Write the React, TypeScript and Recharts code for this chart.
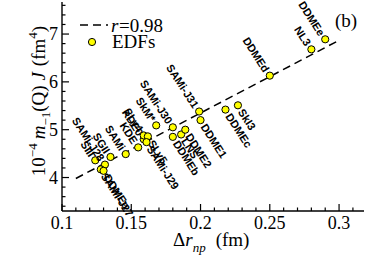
import React from 'react';
import { ComposedChart, Scatter, Line, XAxis, YAxis } from 'recharts';

// EDF results: neutron skin vs 10^-4 m_-1 J
const edfNames = ['SIII', 'SGII', 'SAMi-J28', 'SAMi-J27', 'DDMEa', 'SAMi', 'KDE', 'KDE0', 'SLy4', 'SLy5', 'SAMi-J29', 'SkM*', 'SAMi-J30', 'DDMEb', 'LNS', 'DDME2', 'SAMi-J31', 'DDME1', 'DDMEc', 'SkI3', 'DDMEd', 'NL3', 'DDMEe'];
const deltaRnp = [0.124, 0.135, 0.131, 0.128, 0.13, 0.146, 0.155, 0.159, 0.159, 0.162, 0.161, 0.168, 0.18, 0.18, 0.186, 0.189, 0.199, 0.2, 0.218, 0.227, 0.25, 0.28, 0.29];
const m1J = [4.36, 4.43, 4.27, 4.17, 4.14, 4.49, 4.63, 4.8, 4.88, 4.86, 4.74, 5.09, 5.05, 4.85, 4.9, 5.0, 5.38, 5.2, 5.42, 5.51, 6.13, 6.68, 6.89];

// linear fit (r = 0.98)
const fitX = [0.11, 0.3];
const fitY = [3.98, 6.87];

const xTicks = [0.1, 0.11, 0.12, 0.13, 0.14, 0.15, 0.16, 0.17, 0.18, 0.19, 0.2, 0.21, 0.22, 0.23, 0.24, 0.25, 0.26, 0.27, 0.28, 0.29, 0.3, 0.31];
const yTicks = [3.4, 3.6, 3.8, 4, 4.2, 4.4, 4.6, 4.8, 5, 5.2, 5.4, 5.6, 5.8, 6, 6.2, 6.4, 6.6, 6.8, 7, 7.2, 7.4, 7.6];

// labels drawn below-right of their point (others go above-left)
const labelBelow = ['SkI3', 'DDMEc', 'DDME1', 'DDME2', 'LNS', 'DDMEb', 'SLy5', 'SAMi-J29', 'SAMi-J27', 'DDMEa'];

const points = edfNames.map((name, i) => ({ name, x: deltaRnp[i], y: m1J[i] }));
const fitLine = fitX.map((x, i) => ({ x, y: fitY[i] }));

const serif = '"Liberation Serif", "Times New Roman", serif';
const ANGLE = 57;

const isMajorX = (v: number) => Math.abs(v * 20 - Math.round(v * 20)) < 1e-6;
const isMajorY = (v: number) => Math.abs(v - Math.round(v)) < 1e-6;

const BottomTick = ({ x, y, payload }: any) => {
    const major = isMajorX(payload.value);
    return (
        <g>
            <line x1={x} y1={y} x2={x} y2={y - (major ? 7 : 3.5)} stroke="#000" strokeWidth={1.2} />
            {major && (
                <text x={x} y={y + 18} textAnchor="middle" fontFamily={serif} fontSize={18} fill="#000">
                    {String(Number(payload.value.toFixed(2)))}
                </text>
            )}
        </g>
    );
};

const TopTick = ({ x, y, payload }: any) => {
    const major = isMajorX(payload.value);
    return <line x1={x} y1={y} x2={x} y2={y + (major ? 7 : 3.5)} stroke="#000" strokeWidth={1.2} />;
};

const LeftTick = ({ x, y, payload }: any) => {
    const major = isMajorY(payload.value);
    return (
        <g>
            <line x1={x} y1={y} x2={x + (major ? 7 : 3.5)} y2={y} stroke="#000" strokeWidth={1.2} />
            {major && (
                <text x={x - 4} y={y + 6} textAnchor="end" fontFamily={serif} fontSize={18} fill="#000">
                    {payload.value}
                </text>
            )}
        </g>
    );
};

const RightTick = ({ x, y, payload }: any) => {
    const major = isMajorY(payload.value);
    return <line x1={x} y1={y} x2={x - (major ? 7 : 3.5)} y2={y} stroke="#000" strokeWidth={1.2} />;
};

const EdfPoint = ({ cx, cy, payload }: any) => {
    const below = labelBelow.includes(payload.name);
    const rad = (ANGLE * Math.PI) / 180;
    const d = below ? 5.5 : -5.5;
    const tx = cx + d * Math.cos(rad);
    const ty = cy + d * Math.sin(rad);
    return (
        <g>
            <circle cx={cx} cy={cy} r={3.6} fill="#ffff00" stroke="#000" strokeWidth={1} />
            <text
                x={tx}
                y={ty}
                transform={`rotate(${ANGLE}, ${tx}, ${ty})`}
                textAnchor={below ? 'start' : 'end'}
                dominantBaseline="central"
                fontFamily='"Liberation Sans", Arial, sans-serif'
                fontWeight="bold"
                fontSize={11}
                fill="#000"
            >
                {payload.name}
            </text>
        </g>
    );
};

const App = () => {
    return (
        <div style={{ position: 'absolute', left: 0, top: 0, width: 374, height: 260, background: '#fff' }}>
            <ComposedChart width={374} height={260} margin={{ top: 2, right: 10, left: 0, bottom: 0 }}>
                <XAxis
                    dataKey="x"
                    type="number"
                    domain={[0.1, 0.318]}
                    ticks={xTicks}
                    interval={0}
                    height={49}
                    tickSize={0}
                    tickMargin={0}
                    tickLine={false}
                    tick={(p: any) => <BottomTick {...p} />}
                    axisLine={{ stroke: '#000', strokeWidth: 1.4 }}
                />
                <XAxis
                    xAxisId="top"
                    orientation="top"
                    dataKey="x"
                    type="number"
                    domain={[0.1, 0.318]}
                    ticks={xTicks}
                    interval={0}
                    height={0}
                    tickSize={0}
                    tickMargin={0}
                    tickLine={false}
                    tick={(p: any) => <TopTick {...p} />}
                    axisLine={{ stroke: '#000', strokeWidth: 1.4 }}
                />
                <YAxis
                    dataKey="y"
                    type="number"
                    domain={[3.3, 7.67]}
                    ticks={yTicks}
                    interval={0}
                    width={62}
                    tickSize={0}
                    tickMargin={0}
                    tickLine={false}
                    tick={(p: any) => <LeftTick {...p} />}
                    axisLine={{ stroke: '#000', strokeWidth: 1.4 }}
                />
                <YAxis
                    yAxisId="right"
                    orientation="right"
                    dataKey="y"
                    type="number"
                    domain={[3.3, 7.67]}
                    ticks={yTicks}
                    interval={0}
                    width={0}
                    tickSize={0}
                    tickMargin={0}
                    tickLine={false}
                    tick={(p: any) => <RightTick {...p} />}
                    axisLine={{ stroke: '#000', strokeWidth: 1.4 }}
                />
                <Line
                    data={fitLine}
                    dataKey="y"
                    type="linear"
                    stroke="#000"
                    strokeWidth={1.5}
                    strokeDasharray="8 5"
                    dot={false}
                    activeDot={false}
                    isAnimationActive={false}
                />
                <Scatter data={points} dataKey="y" shape={(p: any) => <EdfPoint {...p} />} isAnimationActive={false} />
            </ComposedChart>

            {/* titles, legend and panel tag */}
            <svg width={374} height={260} style={{ position: 'absolute', left: 0, top: 0, pointerEvents: 'none' }}>
                <line x1={80} y1={25} x2={108} y2={25} stroke="#000" strokeWidth={1.5} strokeDasharray="8 5" />
                <text x={111} y={32} fontFamily={serif} fontSize={19} fontStyle="italic" fill="#000">r</text>
                <text x={119} y={32} fontFamily={serif} fontSize={19} fill="#000">=0.98</text>
                <circle cx={92} cy={42} r={3.6} fill="#ffff00" stroke="#000" strokeWidth={1} />
                <text x={112} y={48} fontFamily={serif} fontSize={19} fill="#000">EDFs</text>
                <text x={335} y={27} fontFamily={serif} fontSize={19} fill="#000">(b)</text>

                <text x={173} y={246} fontFamily={serif} fontSize={19} fill="#000">
                    Δ<tspan fontStyle="italic">r</tspan>
                    <tspan dy={6} fontSize={13} fontStyle="italic">np</tspan>
                    <tspan dy={-6} dx={10}>(fm)</tspan>
                </text>

                <text
                    transform="translate(45, 101) rotate(-90)"
                    textAnchor="middle"
                    fontFamily={serif}
                    fontSize={19}
                    fill="#000"
                >
                    10<tspan dy={-8} fontSize={13}>−4</tspan>
                    <tspan dy={8} dx={4} fontStyle="italic">m</tspan>
                    <tspan dy={5} fontSize={13}>−1</tspan>
                    <tspan dy={-5}>(Q) </tspan>
                    <tspan fontStyle="italic">J</tspan>
                    <tspan dx={6}>(fm</tspan>
                    <tspan dy={-8} fontSize={13}>4</tspan>
                    <tspan dy={8}>)</tspan>
                </text>
            </svg>
        </div>
    );
};

export default App;
